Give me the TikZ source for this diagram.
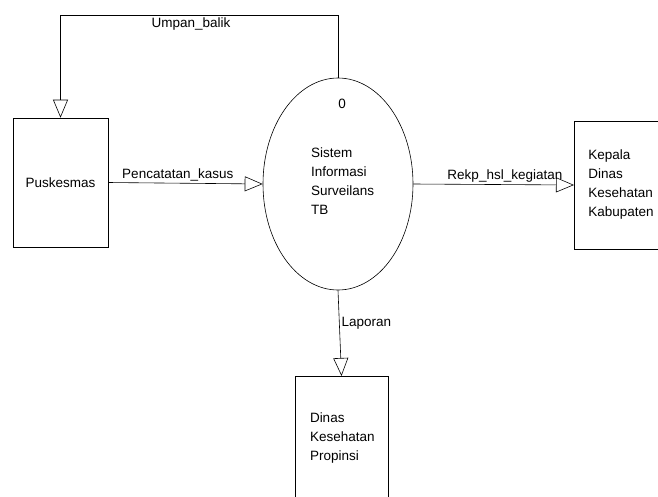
\documentclass[tikz,border=0pt]{standalone}
\usepackage{fontspec}
\setmainfont{Liberation Sans}
\usetikzlibrary{arrows.meta,positioning,shapes.geometric}

\begin{document}
\begin{tikzpicture}[
  x=1pt,y=-1pt,
  font=\fontsize{13.5}{19}\selectfont,
  entity/.style={draw,line width=.6pt,rectangle,inner sep=0pt},
  proc/.style={draw,line width=.6pt,ellipse,inner sep=0pt,minimum width=150pt,minimum height=212pt},
  flow/.style={line width=.6pt,-{Triangle[open,length=18pt,width=15pt]}},
  lbl/.style={inner sep=2pt}
]
\clip (0,0) rectangle (658,496);
\useasboundingbox (0,0) rectangle (658,496);
% entities and process
\node[entity,minimum width=95pt,minimum height=129pt] (pusk) at (60.5,182.5) {Puskesmas};
\node[proc] (sis) at (338,184) {};
\node (nomor) at (342,104) {0};
\node[anchor=west,align=left,inner sep=0pt] (sistxt) at (311,181) {Sistem\\Informasi\\Surveilans\\TB};
\node[entity,anchor=west,minimum width=100pt,minimum height=128pt,
  text width=72pt,inner xsep=14pt,align=left] (kep) at (574,185) {Kepala\\Dinas\\Kesehatan\\Kabupaten};
\node[entity,anchor=north,minimum width=93pt,minimum height=124pt,
  text width=63pt,inner xsep=15pt,align=left] (dinas) at (341.5,376) {Dinas\\Kesehatan\\Propinsi};
% data flows
\draw[flow] (sis.north) -- (sis.north |- 0,15) -| node[lbl,pos=0.265,below] {Umpan\_balik} (pusk.north);
\draw[flow] (pusk.east) -- node[lbl,pos=0.45,above] {Pencatatan\_kasus} (sis.west);
\draw[flow] (sis.east) -- node[lbl,pos=0.57,above] {Rekp\_hsl\_kegiatan} (kep.west);
\draw[flow] (sis.south) -- node[lbl,pos=0.38,right] {Laporan} (dinas.north);
\end{tikzpicture}
\end{document}
